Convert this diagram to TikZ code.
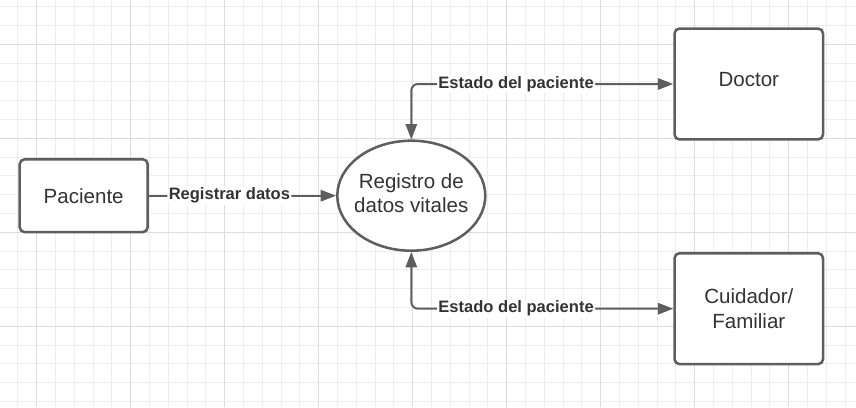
\documentclass[tikz,border=0pt]{standalone}
\usepackage{fontspec}
\setmainfont{Liberation Sans}
\usepackage{tikz}
\usetikzlibrary{positioning,shapes,calc,arrows.meta}
\usepackage{xcolor}

\definecolor{edgegray}{HTML}{5E5E5E}
\definecolor{inkgray}{HTML}{333333}
\definecolor{gridminor}{HTML}{EDEDED}
\definecolor{gridmajor}{HTML}{DCDCDC}

\begin{document}
\begin{tikzpicture}[x=0.75pt,y=-0.75pt,
    entity/.style={fill=white,draw=edgegray,line width=1.9pt,rounded corners=3.75pt,inner sep=0pt,
        text=inkgray,align=center,font=\fontsize{15.4}{18.5}\selectfont},
    process/.style={fill=white,draw=edgegray,line width=1.9pt,ellipse,inner sep=0pt,
        minimum width=111pt,minimum height=82.5pt},
    flow/.style={draw=edgegray,line width=1.5pt,rounded corners=5pt,
        arrows={-Triangle[length=11.5pt,width=8.5pt]}},
    lbl/.style={fill=white,inner sep=1pt,text=inkgray,font=\fontsize{12.4}{14}\selectfont\bfseries}]

        \useasboundingbox (0,0) rectangle (856,407);

        % background grid
        \foreach \k in {0,...,45} \draw[gridminor,line width=0.75pt] ({17.9+18.8*\k},0) -- ({17.9+18.8*\k},407);
        \foreach \k in {0,...,21} \draw[gridminor,line width=0.75pt] (0,{6.7+18.8*\k}) -- (856,{6.7+18.8*\k});
        \foreach \k in {0,...,8} \draw[gridmajor,line width=1pt] ({36.7+94*\k},0) -- ({36.7+94*\k},407);
        \foreach \k in {0,...,3} \draw[gridmajor,line width=1pt] (0,{44.3+94*\k}) -- (856,{44.3+94*\k});

        \node[entity,minimum width=96pt,minimum height=54.7pt] (pac) at (83.7,195.7) {Paciente};
        \node[process] (reg) at (411.3,195.7) {};
        \node[text=inkgray,align=center,font=\fontsize{15.4}{18}\selectfont] (regtext) at ($(reg.center)+(0,-3)$) {Registro de\\datos vitales};
        \node[entity,minimum width=111.4pt,minimum height=83.2pt,text depth=7.5pt] (doc) at (748.8,84) {Doctor};
        \node[entity,minimum width=111.4pt,minimum height=83.2pt] (cui) at (748.8,308.7) {Cuidador/\\Familiar};

        \draw[flow] (pac.east) -- node[lbl,pos=0.43] {Registrar datos} (reg.west);
        \draw[flow,arrows={Triangle[length=11.5pt,width=8.5pt]-Triangle[length=11.5pt,width=8.5pt]}] (reg.north) |- node[lbl,pos=0.7] {Estado del paciente} (doc.west);
        \draw[flow,arrows={Triangle[length=11.5pt,width=8.5pt]-Triangle[length=11.5pt,width=8.5pt]}] (reg.south) |- node[lbl,pos=0.7] {Estado del paciente} (cui.west);
    \end{tikzpicture}
\end{document}
